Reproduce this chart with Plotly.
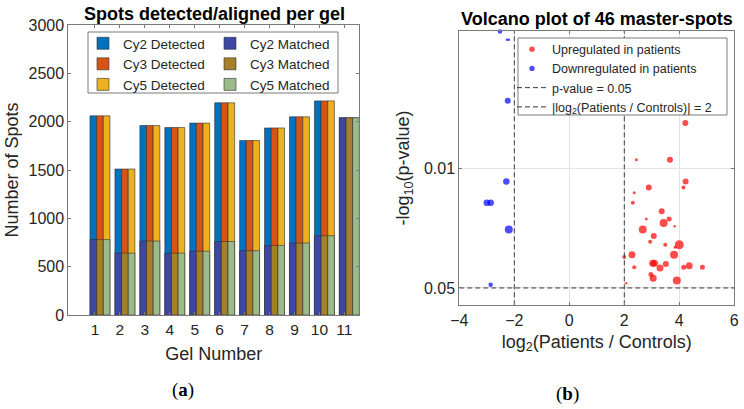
import plotly.graph_objects as go

# ---------------- data: panel (a) ----------------
gels = [1, 2, 3, 4, 5, 6, 7, 8, 9, 10, 11]
gel_labels = [str(g) for g in gels]
cy2_detected = [2060, 1510, 1960, 1940, 1985, 2195, 1805, 1935, 2050, 2215, 2040]
cy3_detected = [2060, 1510, 1960, 1940, 1985, 2195, 1805, 1935, 2050, 2215, 2040]
cy5_detected = [2060, 1510, 1960, 1940, 1985, 2195, 1805, 1935, 2050, 2215, 2040]
cy2_matched = [782, 640, 765, 640, 660, 760, 665, 720, 745, 820, 2040]
cy3_matched = [780, 640, 765, 640, 660, 760, 665, 720, 745, 820, 2040]
cy5_matched = [780, 640, 765, 640, 660, 760, 665, 720, 745, 820, 2040]

# ---------------- data: panel (b) ----------------
up_log2fc = [4.22, 2.44, 3.66, 4.23, 4.15, 2.89, 2.36, 2.31, 3.36, 2.80, 3.63, 3.43,
             3.83, 2.67, 3.07, 2.94, 4.00, 3.49, 3.85, 3.81, 2.28, 2.00, 3.03, 3.10,
             3.30, 3.51, 2.36, 4.16, 4.36, 4.84, 2.97, 3.05, 3.91, 2.07]
up_neglog10p = [2.262, 2.048, 2.048, 1.922, 1.887, 1.887, 1.856, 1.798, 1.748, 1.703,
                1.703, 1.680, 1.660, 1.641, 1.604, 1.571, 1.553, 1.553, 1.538, 1.495,
                1.495, 1.482, 1.445, 1.445, 1.418, 1.441, 1.421, 1.421, 1.431, 1.421,
                1.379, 1.357, 1.345, 1.328]
up_size = [6, 3, 6, 6, 4, 6, 3, 4, 6, 3, 5, 8, 2.5, 8, 6, 4, 9, 4, 3, 8, 7, 4, 7, 7,
           7, 6, 4, 5, 7, 5, 5, 7, 8, 2.5]

down_log2fc = [-2.52, -2.27, -2.20, -2.24, -2.29, -3.00, -2.86, -2.20, -2.86]
down_neglog10p = [2.795, 2.747, 2.747, 2.392, 1.922, 1.798, 1.798, 1.641, 1.320]
down_size = [4.5, 2.5, 2.5, 6, 6.5, 6.5, 6.5, 8, 4.5]

p_threshold_neglog10 = 1.30103   # -log10(0.05)
fc_threshold = 2
xb_range = [-4, 6]
yb_range = [1.2, 2.8]

# ---------------- styling ----------------
W, H = 744, 409
FONT = "Liberation Sans"
TXT = "#262626"
AX = "#7a7a7a"

det_colors = ["#0072BD", "#D95319", "#EDB120"]
mat_colors = ["#3F47A5", "#A5802A", "#9CBB8B"]
bar_w = 0.2667
offsets = [-0.2, -0.2 + bar_w, -0.2 + 2 * bar_w]

fig = go.Figure()

detected = [cy2_detected, cy3_detected, cy5_detected]
matched = [cy2_matched, cy3_matched, cy5_matched]
names = ["Cy2", "Cy3", "Cy5"]

for i in range(3):
    fig.add_trace(go.Bar(
        x=gels, y=detected[i], name=f"{names[i]} Detected",
        width=bar_w, offset=offsets[i],
        marker=dict(color=det_colors[i], line=dict(color="#303030", width=0.6)),
        xaxis="x", yaxis="y", legend="legend"))
for i in range(3):
    fig.add_trace(go.Bar(
        x=gels, y=matched[i], name=f"{names[i]} Matched",
        width=bar_w, offset=offsets[i],
        marker=dict(color=mat_colors[i], line=dict(color="#303030", width=0.6)),
        xaxis="x", yaxis="y", legend="legend3"))

# volcano
fig.add_trace(go.Scatter(
    x=up_log2fc, y=up_neglog10p, mode="markers", name="Upregulated in patients",
    marker=dict(color="#FF0000", size=up_size, line=dict(width=0)),
    cliponaxis=False, xaxis="x2", yaxis="y2", legend="legend2"))
fig.add_trace(go.Scatter(
    x=down_log2fc, y=down_neglog10p, mode="markers", name="Downregulated in patients",
    marker=dict(color="#0000FF", size=down_size, line=dict(width=0)),
    cliponaxis=False, xaxis="x2", yaxis="y2", legend="legend2"))
fig.add_trace(go.Scatter(
    x=xb_range, y=[p_threshold_neglog10, p_threshold_neglog10], mode="lines",
    name="p-value = 0.05",
    line=dict(color="#3a3a3a", width=1, dash="5px,3px"),
    xaxis="x2", yaxis="y2", legend="legend2"))
fig.add_trace(go.Scatter(
    x=[-fc_threshold, -fc_threshold, None, fc_threshold, fc_threshold],
    y=[yb_range[0], yb_range[1], None, yb_range[0], yb_range[1]], mode="lines",
    name="|log<sub>2</sub>(Patients / Controls)| = 2",
    line=dict(color="#3a3a3a", width=1, dash="5px,3px"),
    xaxis="x2", yaxis="y2", legend="legend2"))

axis_common = dict(showline=True, linecolor=AX, linewidth=1, mirror="ticks",
                   ticks="inside", ticklen=3, tickcolor=AX, zeroline=False,
                   automargin=False,
                   tickfont=dict(family=FONT, size=16, color=TXT))
title_font = dict(family=FONT, size=18, color=TXT)

fig.update_layout(
    width=W, height=H, margin=dict(l=0, r=0, t=0, b=0, autoexpand=False),
    paper_bgcolor="white", plot_bgcolor="white",
    barmode="overlay",
    font=dict(family=FONT, color=TXT),
    xaxis=dict(domain=[68.3 / W, 359.3 / W], range=[-0.07, 11.6], anchor="y",
               tickvals=gels, ticktext=gel_labels, showgrid=False,
               title=dict(text="Gel Number", font=title_font, standoff=10),
               **{**axis_common, "tickfont": dict(family=FONT, size=15.5, color=TXT)}),
    yaxis=dict(domain=[1 - 315 / H, 1 - 25 / H], range=[0, 3000], dtick=500, anchor="x",
               showgrid=False,
               title=dict(text="Number of Spots", font=title_font, standoff=5),
               **axis_common),
    xaxis2=dict(domain=[459.3 / W, 734.3 / W], range=xb_range, dtick=2, anchor="y2",
                showgrid=True, gridcolor="#e3e3e3",
                title=dict(text="log<sub>2</sub>(Patients / Controls)",
                           font=title_font, standoff=7),
                **axis_common),
    yaxis2=dict(domain=[1 - 305.3 / H, 1 - 30.7 / H], range=yb_range, anchor="x2",
                tickvals=[2, p_threshold_neglog10], ticktext=["0.01", "0.05"],
                showgrid=True, gridcolor="#e3e3e3",
                title=dict(text="-log<sub>10</sub>(p-value)", font=title_font, standoff=9),
                **axis_common),
    legend=dict(x=83 / W, y=1 - 28 / H, xanchor="left", yanchor="top",
                bgcolor="rgba(0,0,0,0)", borderwidth=0,
                font=dict(family=FONT, size=13.5, color=TXT)),
    legend3=dict(x=210 / W, y=1 - 28 / H, xanchor="left", yanchor="top",
                 bgcolor="rgba(0,0,0,0)", borderwidth=0,
                 font=dict(family=FONT, size=13.5, color=TXT)),
    legend2=dict(x=512 / W, y=1 - 34.5 / H, xanchor="left", yanchor="top",
                 bgcolor="rgba(0,0,0,0)", borderwidth=0,
                 font=dict(family=FONT, size=12.5, color=TXT)),
    shapes=[
        dict(type="rect", xref="paper", yref="paper",
             x0=88 / W, x1=338 / W, y0=1 - 93 / H, y1=1 - 32 / H,
             line=dict(color=AX, width=1), fillcolor="white", layer="above"),
        dict(type="rect", xref="paper", yref="paper",
             x0=518 / W, x1=727 / W, y0=1 - 115 / H, y1=1 - 38 / H,
             line=dict(color=AX, width=1), fillcolor="white", layer="above"),
    ],
    annotations=[
        dict(text="<b>Spots detected/aligned per gel</b>", x=214 / W, y=1 - 14 / H,
             xref="paper", yref="paper", showarrow=False, xanchor="center", yanchor="middle",
             font=dict(family=FONT, size=18, color="#000000")),
        dict(text="<b>Volcano plot of 46 master-spots</b>", x=597 / W, y=1 - 19 / H,
             xref="paper", yref="paper", showarrow=False, xanchor="center", yanchor="middle",
             font=dict(family=FONT, size=18, color="#000000")),
        dict(text="(<b>a</b>)", x=183 / W, y=1 - 390 / H, xref="paper", yref="paper",
             showarrow=False, xanchor="center", yanchor="middle",
             font=dict(family="Liberation Serif", size=19, color="#000000")),
        dict(text="(<b>b</b>)", x=567 / W, y=1 - 394 / H, xref="paper", yref="paper",
             showarrow=False, xanchor="center", yanchor="middle",
             font=dict(family="Liberation Serif", size=19, color="#000000")),
    ],
)

fig.write_html("out.html")
